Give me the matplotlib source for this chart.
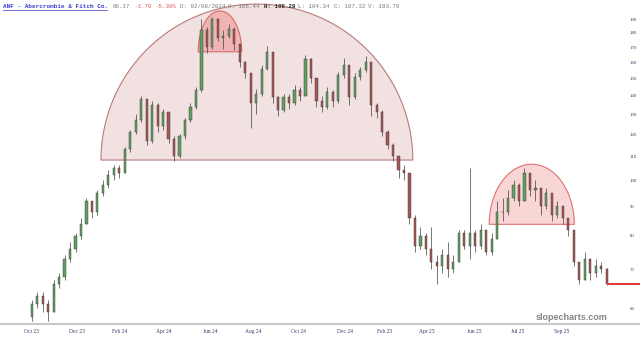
import numpy as np
import matplotlib
matplotlib.use('Agg')
import matplotlib.pyplot as plt
from matplotlib.lines import Line2D
from matplotlib.ticker import NullLocator

# weekly candles, ANF Oct 2023 - Oct 2025
first_open = 58.0
closes = [61, 63, 61, 59, 66, 68, 73, 76, 80, 84,
          92, 88, 95, 98, 102, 105, 103, 113, 121, 127,
          138, 117, 135, 124, 131, 118, 110, 119, 127, 134,
          143, 182, 170, 190, 176, 178, 183, 172, 160, 153,
          136, 141, 156, 167, 139, 132, 139, 136, 143, 140,
          162, 150, 137, 134, 142, 137, 152, 158, 139, 151,
          155, 160, 135, 131, 121, 115, 110, 104, 103, 86,
          77, 80, 76, 72, 71, 74, 70, 72, 81, 77,
          81, 77, 82, 75, 79, 88, 88, 93, 98, 92,
          103, 96, 97, 90, 95, 87, 90, 86, 82, 72,
          67, 73, 69, 71, 70, 66.17]
highs = [62, 64, 64, 62, 67, 69, 74, 78, 81, 86,
         93, 92, 96, 100, 104, 106, 106, 114, 122, 130,
         140, 137, 137, 136, 133, 131, 119, 120, 128, 136,
         145, 190, 184, 192, 191, 182, 186, 184, 172, 161,
         153, 144, 158, 171, 167, 140, 141, 141, 146, 145,
         165, 163, 150, 140, 145, 143, 154, 163, 158, 153,
         157, 164, 160, 136, 132, 122, 116, 110, 106, 96,
         87, 83, 81, 83, 74, 76, 78, 74, 82, 82,
         105, 82, 84, 82, 81, 92, 93, 96, 100, 99,
         105, 103, 100, 97, 97, 95, 92, 90, 85, 81,
         72, 75, 73, 73, 72, 70.5]
lows = [57, 60, 59, 57, 59, 65, 67, 72, 75, 79,
        84, 86, 87, 94, 97, 100, 101, 103, 112, 120,
        126, 115, 116, 121, 122, 116, 108, 109, 118, 126,
        133, 142, 166, 169, 174, 169, 176, 168, 157, 150,
        123, 130, 140, 155, 136, 129, 131, 133, 135, 137,
        140, 147, 134, 131, 133, 134, 136, 150, 135, 138,
        149, 154, 129, 128, 119, 113, 108, 101, 100, 84,
        75, 76, 74, 70, 66, 69, 68, 69, 72, 76,
        73, 75, 76, 74, 74, 79, 85, 87, 92, 90,
        92, 94, 92, 87, 89, 85, 86, 84, 80, 71,
        66, 67, 67, 68, 69, 65.8]
last_close = 66.17

tick_pos = [0, 8.3, 16.1, 24.2, 32.7, 40.4, 48.8, 57.2, 64.5, 72.2, 80.8, 88.8, 96.8]
tick_labels = ['Oct 23', 'Dec 23', 'Feb 24', 'Apr 24', 'Jun 24', 'Aug 24', 'Oct 24',
               'Dec 24', 'Feb 25', 'Apr 25', 'Jun 25', 'Jul 25', 'Sep 25']
price_ticks = [60, 70, 80, 90, 100, 110, 120, 130, 140, 150, 160, 170, 180, 190]

# dome annotations: start week, end week, base price, top price
dome_start = [12.66, 30.42, 83.56]
dome_end = [69.6, 38.35, 99.09]
dome_base = [108.3, 166.8, 83.8]
dome_top = [201.8, 196.3, 106.5]
dome_face = ['#f2e1e1', '#f1b4b4', '#f9d6d6']
dome_edge = ['#b97a7a', '#d46a6a', '#e07070']

W, H = 640, 339
fig = plt.figure(figsize=(W / 100, H / 100), dpi=100)
ax = fig.add_axes([0, 15 / H, 1, 324 / H])
ax.set_yscale('log')
ax.set_ylim(56.3, 205.1)
ax.set_xlim(-5.79, 111.1)

for s, e, b, t, fc, ec in zip(dome_start, dome_end, dome_base, dome_top, dome_face, dome_edge):
    th = np.linspace(0, np.pi, 200)
    cx, a = (s + e) / 2, (e - s) / 2
    xs = cx + a * np.cos(th)
    ys = np.exp(np.log(b) + (np.log(t) - np.log(b)) * np.sin(th))
    ax.fill(xs, ys, facecolor=fc, edgecolor=ec, lw=0.8, zorder=1)

closes = np.array(closes, dtype=float)
opens = np.r_[first_open, closes[:-1]]
weeks = np.arange(len(closes))
up = closes >= opens
ax.vlines(weeks, lows, highs, color='#404040', lw=0.5, zorder=3)
ax.bar(weeks, np.abs(closes - opens), bottom=np.minimum(opens, closes), width=0.4,
       color=np.where(up, '#62a062', '#a85858'), edgecolor='#333333', lw=0.3, zorder=4)

ax.hlines(last_close, weeks[-1], 111.1, color='#e03c3c', lw=1.5, zorder=5)

for sp in ['top', 'left', 'right']:
    ax.spines[sp].set_visible(False)
ax.spines['bottom'].set_color('#c8c8c8')
ax.spines['bottom'].set_linewidth(1.5)

ax.yaxis.tick_right()
ax.set_yticks(price_ticks)
ax.set_yticklabels([str(p) for p in price_ticks])
ax.yaxis.set_minor_locator(NullLocator())
ax.tick_params(axis='y', length=0, pad=-7.5, labelsize=3.5, labelcolor='#3a3a6a')
ax.set_xticks(tick_pos)
ax.set_xticklabels(tick_labels)
ax.tick_params(axis='x', length=0, pad=3.5, labelsize=4, labelcolor='#3a3a6a')
for lab in ax.get_xticklabels() + ax.get_yticklabels():
    lab.set_family('Liberation Serif')

# header
fig.text(3 / W, 1 - 6 / H, 'ANF - Abercrombie & Fitch Co.', family='Liberation Mono',
         fontsize=4.3, weight='bold', color='#3a3ad0', va='center')
fig.add_artist(Line2D([3 / W, 107 / W], [1 - 9.5 / H, 1 - 9.5 / H], color='#3a3ad0', lw=0.5))
tokens = [('66.17', '#777777', 'normal'), ('-3.70', '#e05a5a', 'normal'),
          ('-5.30%', '#e05a5a', 'normal'), ('D: 02/08/2024', '#777777', 'normal'),
          ('O: 106.44', '#777777', 'normal'), ('H: 108.28', '#222222', 'bold'),
          ('L: 104.34', '#777777', 'normal'), ('C: 107.32', '#777777', 'normal'),
          ('V: 193.79', '#777777', 'normal')]
renderer = fig.canvas.get_renderer()
probe = fig.text(0, 0, '0' * 40, family='Liberation Mono', fontsize=4.15)
char_w = probe.get_window_extent(renderer).width / 40
probe.remove()
pos = 0
for txt, col, wt in tokens:
    fig.text((113 + pos * char_w) / W, 1 - 6 / H, txt, family='Liberation Mono',
             fontsize=4.15, color=col, weight=wt, va='center')
    pos += len(txt) + 1

fig.text(607 / W, 1 - 318 / H, 'slopecharts.com', ha='right', va='center',
         fontsize=6.5, weight='bold', color='#858585', family='Liberation Sans')

fig.savefig('out.png', dpi=100)
